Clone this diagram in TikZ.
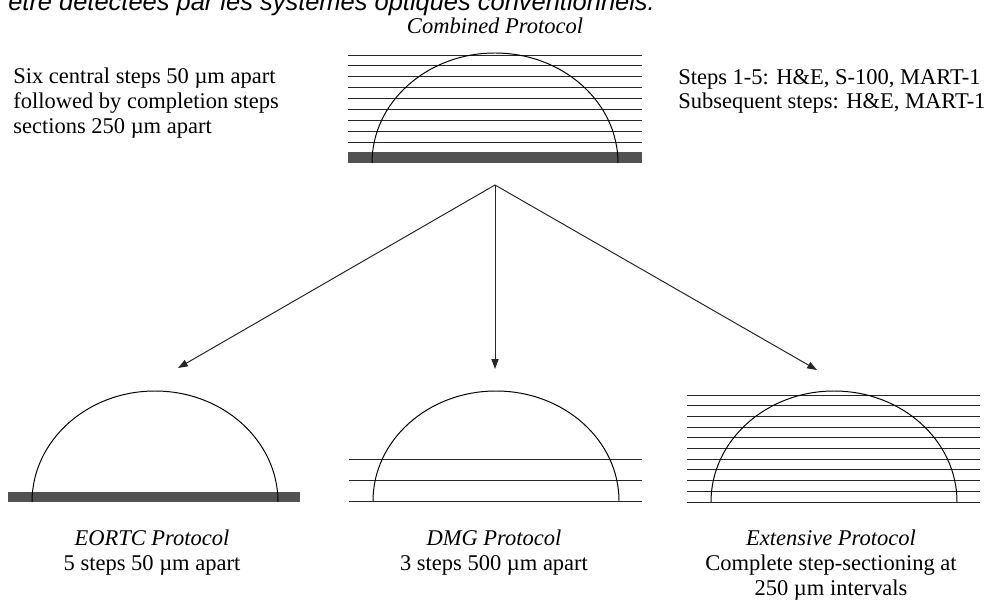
\documentclass[tikz,border=0pt]{standalone}
\usepackage{fontspec}
\setmainfont{Liberation Serif}
\newfontfamily\pagefont{Liberation Sans}
\usetikzlibrary{arrows.meta}

\begin{document}
\begin{tikzpicture}[x=0.025cm, y=0.025cm, >={Triangle[length=7pt,width=5pt]},
	cut/.style={draw=black!85, line width=0.7pt},
	slide/.style={fill=black!68},
	tissue/.style={draw=black, line width=0.7pt},
	caption/.style={inner sep=0pt, align=center, font=\fontsize{16}{17.5}\selectfont},
	note/.style={inner sep=0pt, align=left, font=\fontsize{16}{17.5}\selectfont}]

		\useasboundingbox (0,0) rectangle (990,-603);

		% last line of the page text, cut off by the frame
		\begin{scope}
			\clip (0,0) rectangle (990,-603);
			\node [inner sep=0pt, anchor=base west, font=\pagefont\itshape\fontsize{18.1}{20}\selectfont] (pagetext) at (8,-11) {être détectées par les systèmes optiques conventionnels.};
		\end{scope}

		% combined protocol
		\fill [slide] (348,-152) rectangle (642,-163);
		\foreach \i in {0,...,8}
			\draw [cut] (348,-55-\i*10.875) -- (642,-55-\i*10.875);
		\draw [tissue] (372,-163) arc [start angle=180, end angle=0, x radius=123, y radius=110];

		% EORTC protocol
		\fill [slide] (8,-492) rectangle (300,-502);
		\draw [tissue] (32,-502) arc [start angle=180, end angle=0, x radius=123, y radius=111];

		% DMG protocol
		\foreach \y in {459,480,501}
			\draw [cut] (349,-\y) -- (642,-\y);
		\draw [tissue] (373,-501) arc [start angle=180, end angle=0, x radius=123, y radius=110];

		% extensive protocol
		\foreach \i in {0,...,10}
			\draw [cut] (687,-395-\i*10.7) -- (980,-395-\i*10.7);
		\draw [tissue] (711,-502) arc [start angle=180, end angle=0, x radius=123, y radius=111];

		\coordinate (split) at (495,-185);
		\coordinate (eortc-in) at (178,-368);
		\coordinate (dmg-in) at (495,-369);
		\coordinate (ext-in) at (817,-370);

		\foreach \t in {eortc-in, dmg-in, ext-in}
			\draw [->, line width=0.7pt, black!85] (split) -- (\t);

		\node [caption, anchor=north] (combined) at (495,-17.5) {\textit{Combined Protocol}};
		\node [note, anchor=north west] (combined-steps) at (13,-68) {Six central steps 50 µm apart\\followed by completion steps\\sections 250 µm apart};
		\node [note, anchor=north west] (combined-stains) at (678,-69) {Steps 1-5: H\&E, S-100, MART-1\\Subsequent steps: H\&E, MART-1};

		\node [caption, anchor=north] (eortc) at (152,-530) {\textit{EORTC Protocol}\\5 steps 50 µm apart};
		\node [caption, anchor=north] (dmg) at (494,-530) {\textit{DMG Protocol}\\3 steps 500 µm apart};
		\node [caption, anchor=north] (ext) at (831,-530) {\textit{Extensive Protocol}\\Complete step-sectioning at\\250 µm intervals};

	\end{tikzpicture}
\end{document}
